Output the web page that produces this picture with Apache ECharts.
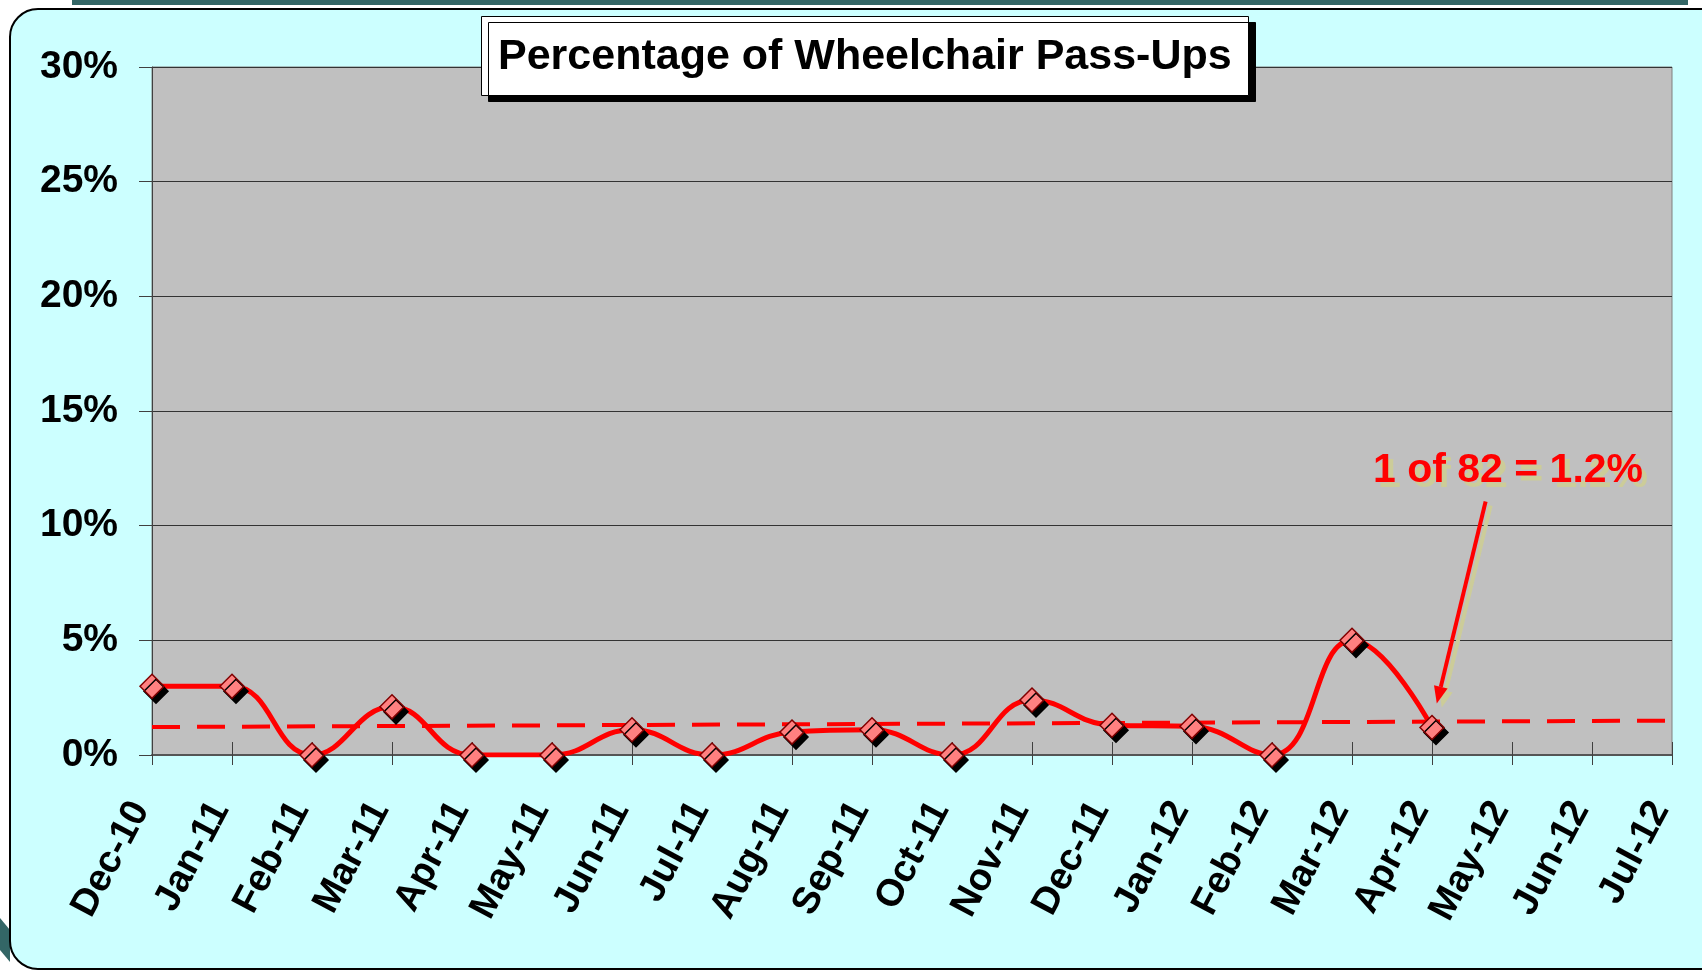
<!DOCTYPE html>
<html>
<head>
    <meta charset="utf-8">
    <title>Percentage of Wheelchair Pass-Ups</title>
    <script src="https://cdn.jsdelivr.net/npm/echarts@6.0.0/dist/echarts.min.js"></script>
    <style>
        html, body { margin: 0; padding: 0; background: #fff; }
        #chart { width: 1702px; height: 973px; }
    </style>
</head>
<body>
<div id="chart"></div>
<script>
    // month labels on the x axis
    var months = ['Dec-10', 'Jan-11', 'Feb-11', 'Mar-11', 'Apr-11', 'May-11', 'Jun-11', 'Jul-11',
        'Aug-11', 'Sep-11', 'Oct-11', 'Nov-11', 'Dec-11', 'Jan-12', 'Feb-12', 'Mar-12',
        'Apr-12', 'May-12', 'Jun-12', 'Jul-12'];
    // pass-ups in percent (no data after Apr-12)
    var passUpPct = [3.0, 3.0, 0, 2.1, 0, 0, 1.1, 0, 1.0, 1.1, 0, 2.4, 1.3, 1.25, 0, 5.0, 1.2];
    // dashed trend line, value at first and last month
    var trendEnds = [1.22, 1.50];
    var yMin = 0, yMax = 30, yStep = 5;

    // note with arrow, in data units [month index, percent]
    var noteText = '1 of 82 = 1.2%';
    var noteAt = [16.95, 12.4];
    var arrowFrom = [16.67, 11.05];
    var arrowTo = [16.06, 2.25];

    var FONT = '"Liberation Sans", Arial, sans-serif';
    var myChart = echarts.init(document.getElementById('chart'));

    var gridTop = 67, gridBottom = 218;
    var plotHeight = 973 - gridTop - gridBottom;

    var option = {
        backgroundColor: '#ffffff',
        animation: false,
        title: {
            text: 'Percentage of Wheelchair Pass-Ups',
            left: 481,
            top: 16,
            padding: [20, 17, 17, 17],
            backgroundColor: '#ffffff',
            borderColor: '#000000',
            borderWidth: 1,
            shadowColor: '#000000',
            shadowOffsetX: 7,
            shadowOffsetY: 6,
            shadowBlur: 0,
            textStyle: {
                fontFamily: FONT,
                fontWeight: 'bold',
                fontSize: 43,
                color: '#000'
            },
            z: 10
        },
        graphic: [
            // slide header strip peeking in at the top
            {
                type: 'rect', z: -20, silent: true,
                shape: {x: 72, y: 0, width: 1616, height: 5},
                style: {fill: '#336666'}
            },
            {
                type: 'polygon', z: -20, silent: true,
                shape: {points: [[0, 918], [10, 930], [10, 962], [0, 950]]},
                style: {fill: '#336666'}
            },
            // light cyan panel
            {
                type: 'rect', z: -10, silent: true,
                shape: {x: 10, y: 9, width: 1720, height: 960, r: 28},
                style: {fill: '#CCFFFF', stroke: '#000000', lineWidth: 2}
            }
        ],
        grid: {
            left: 152,
            right: 30,
            top: gridTop,
            bottom: gridBottom,
            show: true,
            backgroundColor: '#C0C0C0',
            borderColor: '#808080',
            borderWidth: 1
        },
        xAxis: [
            {
                type: 'category',
                data: months,
                boundaryGap: false,
                axisLine: {lineStyle: {color: '#555555', width: 2}},
                axisTick: {length: 10, lineStyle: {color: '#404040'}},
                axisLabel: {
                    interval: 0,
                    rotate: 62,
                    margin: 27,
                    padding: [0, 25, 0, 0],
                    fontFamily: FONT,
                    fontWeight: 'bold',
                    fontSize: 38,
                    color: '#000'
                },
                splitLine: {show: false}
            },
            {
                // upper half of the crossing ticks
                type: 'category',
                data: months,
                boundaryGap: false,
                position: 'top',
                offset: -plotHeight,
                axisLine: {show: false},
                axisTick: {length: 13, lineStyle: {color: '#404040'}},
                axisLabel: {show: false},
                splitLine: {show: false}
            }
        ],
        yAxis: {
            type: 'value',
            min: yMin,
            max: yMax,
            interval: yStep,
            axisLine: {show: true, lineStyle: {color: '#404040'}},
            axisTick: {show: true, length: 13, lineStyle: {color: '#404040'}},
            axisLabel: {
                formatter: '{value}%',
                margin: 34,
                fontFamily: FONT,
                fontWeight: 'bold',
                fontSize: 39,
                color: '#000'
            },
            splitLine: {lineStyle: {color: '#333333', width: 1}}
        },
        series: [
            {
                name: 'Trend',
                type: 'line',
                data: [[months[0], trendEnds[0]], [months[months.length - 1], trendEnds[1]]],
                symbol: 'none',
                lineStyle: {color: '#FF0000', width: 4, type: [28, 17]},
                z: 3
            },
            {
                name: 'Pass-Ups',
                type: 'line',
                data: passUpPct,
                smooth: 0.45,
                symbol: 'diamond',
                symbolSize: 24,
                lineStyle: {color: '#FF0000', width: 5},
                itemStyle: {
                    color: '#FF8080',
                    borderColor: '#800000',
                    borderWidth: 1.5,
                    shadowColor: '#000000',
                    shadowOffsetX: 4,
                    shadowOffsetY: 5,
                    shadowBlur: 0
                },
                z: 4
            }
        ]
    };
    myChart.setOption(option);

    // pixel position of a (possibly fractional) month index and a percent value
    function toPx(p) {
        var i = Math.floor(p[0]);
        var a = myChart.convertToPixel({xAxisIndex: 0, yAxisIndex: 0}, [i, p[1]]);
        var b = myChart.convertToPixel({xAxisIndex: 0, yAxisIndex: 0}, [i + 1, p[1]]);
        var f = p[0] - i;
        return [a[0] + (b[0] - a[0]) * f, a[1]];
    }

    function arrowParts(from, to, color, dx, dy) {
        var vx = to[0] - from[0], vy = to[1] - from[1];
        var len = Math.sqrt(vx * vx + vy * vy);
        vx /= len; vy /= len;
        var headLen = 17, headHalf = 7;
        var bx = to[0] - vx * headLen, by = to[1] - vy * headLen;
        return [
            {
                type: 'line', z: 20, silent: true,
                shape: {x1: from[0] + dx, y1: from[1] + dy, x2: bx + dx, y2: by + dy},
                style: {stroke: color, lineWidth: 4}
            },
            {
                type: 'polygon', z: 20, silent: true,
                shape: {points: [
                    [to[0] + dx, to[1] + dy],
                    [bx - vy * headHalf + dx, by + vx * headHalf + dy],
                    [bx + vy * headHalf + dx, by - vx * headHalf + dy]
                ]},
                style: {fill: color}
            }
        ];
    }

    var p0 = toPx(arrowFrom), p1 = toPx(arrowTo), pt = toPx(noteAt);
    var notes = [];
    notes = notes.concat(arrowParts(p0, p1, '#CCCC99', 5, 4));
    notes = notes.concat(arrowParts(p0, p1, '#FF0000', 0, 0));
    [['#CCCC99', 5, 5], ['#FF0000', 0, 0]].forEach(function (s) {
        notes.push({
            type: 'text', z: 21, silent: true,
            style: {
                text: noteText,
                x: pt[0] + s[1],
                y: pt[1] + s[2],
                fill: s[0],
                font: 'bold 41px ' + FONT,
                align: 'center',
                textAlign: 'center',
                verticalAlign: 'middle',
                textVerticalAlign: 'middle'
            }
        });
    });
    myChart.setOption({graphic: option.graphic.concat(notes)});
</script>
</body>
</html>
